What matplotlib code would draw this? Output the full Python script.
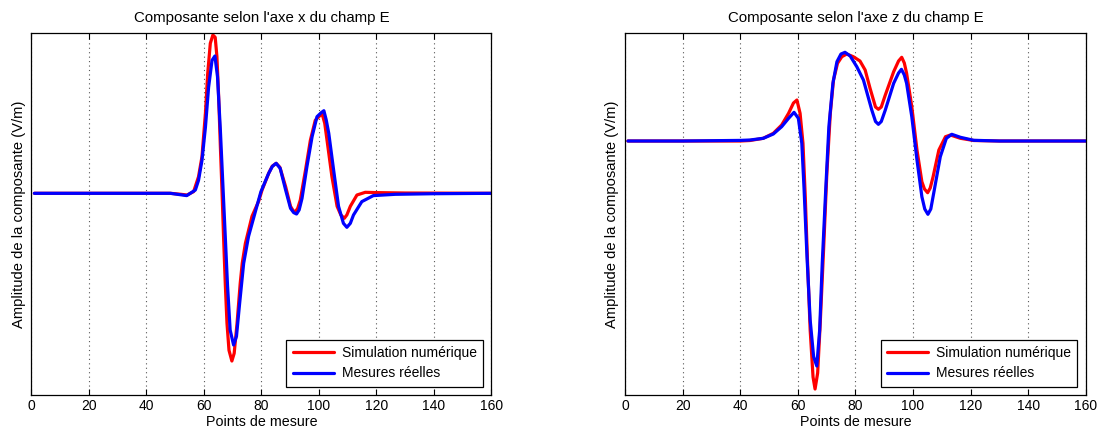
import matplotlib
matplotlib.use("Agg")
import matplotlib.pyplot as plt

plt.rcParams['font.family'] = ['Liberation Sans', 'DejaVu Sans']

# ---------------- Data ----------------
titles = ["Composante selon l'axe x du champ E", "Composante selon l'axe z du champ E"]
xlabel = "Points de mesure"
ylabel = "Amplitude de la composante (V/m)"
legend_labels = ["Simulation numérique", "Mesures réelles"]
xticks = [0, 20, 40, 60, 80, 100, 120, 140, 160]

# Component x - simulation (red)
x_sim_x = [1, 10, 20, 30, 40, 48.3, 52, 54.1, 56.4, 58.1, 59.3, 60.5, 61.3, 62.2, 63.1, 63.9,
           64.5, 65.1, 65.7, 66.3, 66.8, 67.4, 68.0, 68.7, 69.7, 70.5, 71.5, 72.6, 73.3, 74.4,
           76.7, 79.0, 80.2, 82.5, 83.7, 85.1, 86.4, 88.4, 90.1, 91.0, 91.8, 92.6, 93.5, 95.3,
           97.0, 98.7, 100.2, 101.1, 102.0, 102.8, 104.5, 106.3, 107.6, 108.8, 109.7, 110.9,
           113.2, 116.1, 120.1, 130, 140, 150, 160]
y_sim_x = [0, 0, 0, 0, 0, 0, -1.0, -1.7, 1.7, 16.6, 36.6, 80, 120, 150, 158.3, 156,
           136.6, 96.6, 46.6, 0, -43, -90, -130, -157, -167.7, -160, -130, -90, -70, -50,
           -23, -8, 3.3, 20, 27, 30, 26, 6.6, -13, -17.3, -18.3, -15, -6.7, 23,
           53, 73, 77.3, 79.3, 70, 53, 16.6, -13, -21.6, -25, -21.6, -13,
           -1.7, 1.0, 0.7, 0.3, 0.2, 0.1, 0]

# Component x - measurement (blue)
x_mes_x = [1, 10, 20, 30, 40, 48.3, 52, 54.0, 57.0, 58.1, 59.3, 60.5, 61.6, 62.8, 63.8, 64.7,
           65.7, 66.6, 67.4, 68.2, 69.1, 70.3, 71.3, 72.4, 73.8, 75.5, 77.9, 79.8, 82.5,
           83.8, 85.1, 86.5, 88.4, 90.1, 91.2, 92.2, 93.1, 94.1, 95.8, 97.6, 99.3, 100.8,
           101.7, 102.5, 103.4, 105.1, 106.8, 108.5, 109.7, 110.9, 112.0, 114.9, 118.9,
           126.5, 140, 160]
y_mes_x = [0, 0, 0, 0, 0, 0, -1.5, -2.3, 3.3, 13, 33, 66, 106, 133, 137.3, 116.6,
           63, 6.6, -43, -93, -136.7, -151.7, -143, -110, -70, -43, -18, 1.6, 20,
           27, 30, 25, 3.3, -15, -19.3, -20.7, -16.6, -5, 26.6, 56.6, 76.6, 80.7,
           82.6, 73.6, 60, 23, -13, -30, -34, -30, -21.7, -8.3, -2.3,
           -1, -0.4, 0]

# Component z - simulation (red)
x_sim_z = [1, 10, 20, 30, 40, 43.4, 48.0, 51.5, 54.4, 56.8, 58.5, 59.7, 60.8, 61.8, 62.6,
           63.4, 64.3, 65.3, 66.0, 66.9, 67.8, 69.0, 70.1, 71.3, 72.4, 73.8, 75.3, 77.0,
           79.3, 81.6, 83.4, 85.1, 87.0, 88.0, 89.0, 90.4, 93.3, 95.0, 96.1, 97.0, 97.8,
           99.6, 101.4, 103.1, 104.0, 105.1, 106.0, 107.0, 109.0, 111.3, 113.0, 116.5,
           121.1, 130, 140, 160]
y_sim_z = [0, 0, 0, 0, 0, 0.5, 2.7, 7.7, 16, 27.7, 38, 41, 27.7, -2.3, -55.7,
           -122, -189, -236, -248, -232, -182, -106, -32, 27.7, 61, 77.7, 84.3, 87,
           84.3, 80, 71, 52.7, 34, 31.7, 34, 46, 69.3, 80, 83.7, 78, 67.7,
           34.3, -9, -40.7, -48, -51.7, -47, -35.7, -9, 4.3, 6, 2.7,
           0.5, 0, 0, 0]

# Component z - measurement (blue)
x_mes_z = [1, 10, 20, 30, 40, 43.4, 48.0, 51.5, 54.4, 56.8, 58.7, 60.2, 61.4, 62.2, 63.2,
           64.3, 65.5, 66.6, 67.6, 68.5, 69.7, 70.8, 72.2, 73.6, 75.0, 76.4, 78.2, 80.5,
           82.8, 85.7, 87.0, 88.0, 89.0, 90.4, 93.3, 95.0, 96.0, 97.0, 97.8, 99.6, 101.4,
           103.1, 104.1, 105.2, 106.2, 107.2, 109.5, 111.6, 113.5, 116.5, 121.1, 130, 140, 160]
y_mes_z = [0, 0, 0, 0.3, 0.6, 1, 2.7, 7, 14.3, 22.7, 28.7, 22.7, -2.3, -49, -115.7,
           -179, -215.7, -225, -189, -122, -49, 14.3, 57.7, 79.3, 87, 88.7, 85, 74.3,
           61, 31, 19.5, 16.7, 19.5, 31, 57.7, 68, 71.7, 66, 57.7, 24.3, -19,
           -55.7, -68, -73.3, -68, -52.3, -15.7, 2.7, 6.7, 3.7, 0.7, 0, 0, 0]

ylims = [(-201.7, 160.3), (-254, 108)]

# ---------------- Plot ----------------
fig = plt.figure(figsize=(11.01, 4.32), dpi=100)
axes = [fig.add_axes([0.0286, 0.0856, 0.4178, 0.838]),
        fig.add_axes([0.5677, 0.0856, 0.4184, 0.838])]

series = [((x_sim_x, y_sim_x), (x_mes_x, y_mes_x)),
          ((x_sim_z, y_sim_z), (x_mes_z, y_mes_z))]

for ax, title, (sim, mes), yl in zip(axes, titles, series, ylims):
    ax.plot(sim[0], sim[1], color='#ff0000', lw=2.3, label=legend_labels[0],
            solid_joinstyle='round', solid_capstyle='round')
    ax.plot(mes[0], mes[1], color='#0000ff', lw=2.3, label=legend_labels[1],
            solid_joinstyle='round', solid_capstyle='round')
    ax.set_xlim(0, 160)
    ax.set_ylim(*yl)
    ax.set_xticks(xticks)
    ax.set_yticks([])
    ax.tick_params(axis='x', direction='in', top=True, length=4, labelsize=10, pad=3)
    ax.xaxis.grid(True, linestyle=(0, (1, 3)), color='#555555', lw=0.8)
    for s in ax.spines.values():
        s.set_linewidth(0.9)
        s.set_color('black')
    ax.set_title(title, fontsize=10.8, pad=8)
    ax.set_xlabel(xlabel, fontsize=10.3, labelpad=1)
    ax.set_ylabel(ylabel, fontsize=10.6, labelpad=4)
    leg = ax.legend(loc='lower right', fontsize=10, handlelength=2.95,
                    fancybox=False, framealpha=1, edgecolor='black',
                    borderaxespad=0.6, labelspacing=0.45, handletextpad=0.6,
                    borderpad=0.45)
    leg.get_frame().set_linewidth(0.9)

fig.savefig("out.png", dpi=100)
